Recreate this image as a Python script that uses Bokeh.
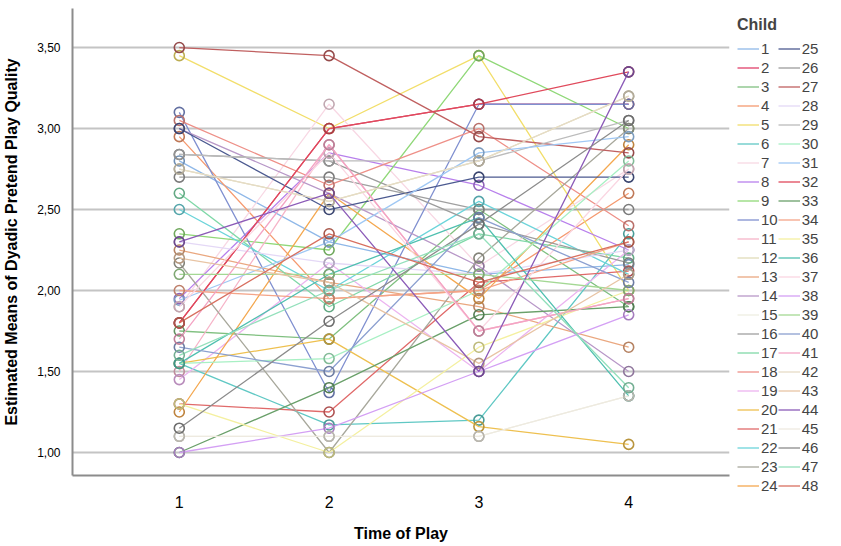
from bokeh.plotting import figure
from bokeh.models import Legend, LegendItem, FixedTicker, Range1d
from bokeh.embed import file_html
from bokeh.resources import INLINE

times = [1, 2, 3, 4]
time_labels = ["1", "2", "3", "4"]
children = [str(i) for i in range(1, 49)]

# Estimated means per child at time 1..4
t1 = [2.80, 1.80, 1.75, 2.95, 3.45, 1.55, 1.90, 1.95, 2.35, 3.10, 1.50, 2.75,
      2.25, 3.00, 1.10, 2.70, 2.60, 3.05, 1.45, 1.55, 1.30, 2.50, 2.17, 1.25,
      3.00, 2.84, 3.50, 2.30, 2.84, 1.55, 1.94, 1.80, 1.00, 2.00, 1.30, 1.55,
      1.90, 1.00, 2.10, 1.65, 1.70, 2.75, 2.20, 2.30, 1.10, 1.15, 1.60, 1.80]
t2 = [2.30, 3.00, 1.70, 1.95, 3.00, 1.17, 3.15, 2.85, 2.25, 1.37, 2.90, 2.55,
      2.05, 2.60, 1.10, 2.70, 1.90, 2.65, 2.17, 1.70, 1.25, 2.00, 1.00, 2.60,
      2.50, 2.80, 3.45, 2.17, 2.80, 1.58, 2.30, 3.00, 1.40, 1.95, 1.00, 2.10,
      2.85, 1.15, 2.10, 1.50, 2.90, 2.55, 2.05, 2.60, 1.10, 1.81, 2.00, 2.35]
t3 = [2.10, 3.15, 2.50, 2.00, 3.45, 1.20, 2.15, 2.65, 3.45, 3.15, 1.75, 2.80,
      1.90, 2.15, 1.10, 2.50, 2.35, 3.00, 1.50, 1.16, 2.05, 2.55, 2.20, 1.95,
      2.70, 2.41, 2.95, 2.10, 2.80, 2.00, 2.85, 3.15, 1.85, 2.00, 1.65, 2.45,
      1.75, 1.50, 2.10, 2.45, 1.75, 2.80, 1.55, 1.50, 1.10, 2.41, 2.35, 2.05]
t4 = [2.16, 3.15, 1.90, 2.60, 2.00, 2.35, 2.75, 2.25, 3.00, 3.15, 1.95, 3.20,
      1.65, 1.50, 1.35, 2.50, 2.20, 2.40, 2.25, 1.05, 2.12, 2.10, 3.00, 2.90,
      2.70, 2.17, 2.85, 2.25, 3.05, 2.80, 2.95, 3.35, 1.90, 2.30, 2.00, 1.35,
      2.75, 1.85, 2.00, 2.05, 1.95, 3.20, 2.10, 3.35, 1.35, 3.05, 1.40, 2.30]

y_ticks = [1.0, 1.5, 2.0, 2.5, 3.0, 3.5]
y_tick_labels = ["1,00", "1,50", "2,00", "2,50", "3,00", "3,50"]

colors = ["#8fb8e8", "#e0406a", "#80c080", "#f59a70", "#f2de6a", "#60c8c4",
          "#f8d8e4", "#b880ec", "#90d878", "#8090d0", "#f6b4c8", "#e0dcb8",
          "#eaa880", "#b898c8", "#eeeee2", "#a0a0a0", "#80d8a8", "#ee9088",
          "#ecb4f0", "#eec050", "#e06a6a", "#6cd4da", "#a8a89c", "#f4a850",
          "#4c5a90", "#9c9c9c", "#c06060", "#e4d8f6", "#bcbcbc", "#a8f0c4",
          "#a0c8f4", "#e04a5c", "#6aa06a", "#f4a488", "#f4f0a0", "#50c0b0",
          "#fad6e2", "#d4a0f4", "#a4d894", "#8ca0d0", "#f4a4c4", "#e6dcc6",
          "#e8c4a4", "#8c5cb8", "#eeeae0", "#8c8c8c", "#94e0bc", "#d87060"]


def darker(hexc, f=0.78):
    r, g, b = int(hexc[1:3], 16), int(hexc[3:5], 16), int(hexc[5:7], 16)
    return "#%02x%02x%02x" % (int(r * f), int(g * f), int(b * f))


FONT = "Liberation Sans"

p = figure(frame_width=657, frame_height=467, output_backend="svg",
           toolbar_location=None, min_border_left=65, min_border_top=8,
           min_border_bottom=63, min_border_right=0,
           x_range=Range1d(0.287, 4.673), y_range=Range1d(0.858, 3.741))
p.outline_line_color = None
p.background_fill_color = "white"

items = []
for i, c in enumerate(children):
    ys = [t1[i], t2[i], t3[i], t4[i]]
    col = colors[i]
    r = p.line(times, ys, line_color=col, line_width=1.3)
    p.scatter(times, ys, marker="circle", size=10, fill_color=None,
              line_color=darker(col), line_width=1.6)
    items.append(LegendItem(label=c, renderers=[r]))

legend = Legend(items=items, orientation="vertical", ncols=2,
                location="top_left",
                title="Child", title_text_font=FONT, title_text_font_style="bold",
                title_text_font_size="16px", title_standoff=5,
                label_text_font=FONT, label_text_font_size="15px",
                label_height=19, glyph_height=19, glyph_width=22,
                label_standoff=2, label_width=0, spacing=0,
                padding=2, margin=6, border_line_alpha=0,
                background_fill_alpha=0)
p.add_layout(legend, "right")

p.xaxis.ticker = FixedTicker(ticks=times)
p.xaxis.major_label_overrides = {t: l for t, l in zip(times, time_labels)}
p.yaxis.ticker = FixedTicker(ticks=y_ticks)
p.yaxis.major_label_overrides = {t: l for t, l in zip(y_ticks, y_tick_labels)}

for ax in (p.xaxis, p.yaxis):
    ax.axis_line_color = "#8c8c8c"
    ax.axis_line_width = 2
    ax.major_tick_line_color = None
    ax.minor_tick_line_color = None
    ax.major_label_text_font = FONT
    ax.major_label_text_color = "#000000"
    ax.axis_label_text_font = FONT
    ax.axis_label_text_font_style = "bold"
    ax.axis_label_text_font_size = "16px"
    ax.axis_label_text_color = "#000000"

p.xaxis.major_label_text_font_size = "16px"
p.xaxis.major_label_standoff = 14
p.xaxis.axis_label = "Time of Play"
p.xaxis.axis_label_standoff = 14
p.yaxis.major_label_text_font_size = "12px"
p.yaxis.major_label_standoff = 6
p.yaxis.axis_label = "Estimated Means of Dyadic Pretend Play Quality"
p.yaxis.axis_label_standoff = 14

p.xgrid.grid_line_color = None
p.ygrid.grid_line_color = "#c4c4c4"
p.ygrid.grid_line_width = 2

open("out.html", "w").write(file_html(p, INLINE))
